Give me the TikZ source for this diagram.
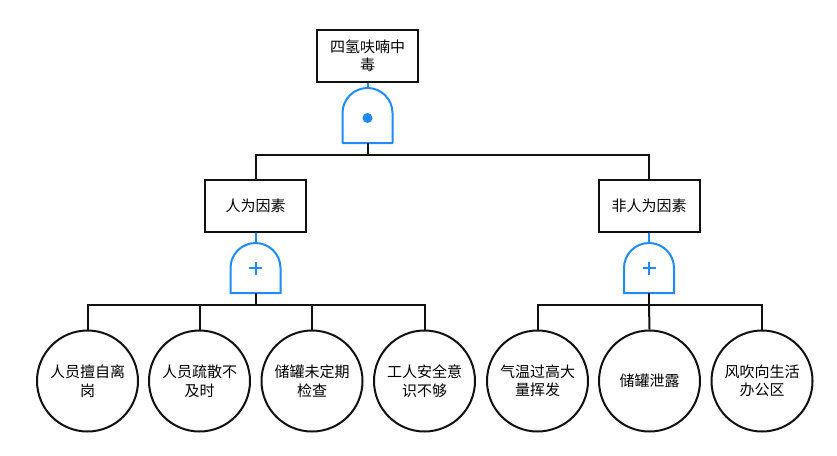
\documentclass[tikz,border=0pt]{standalone}
\usepackage{fontspec}
\newfontfamily\cjk{Noto Sans CJK SC}
\definecolor{gateblue}{HTML}{1E8CFF}
\definecolor{ink}{HTML}{111111}
\tikzset{
  box/.style={draw=ink, line width=2pt, fill=white, minimum width=101pt, minimum height=52pt, align=center, inner sep=2pt, font=\cjk\fontsize{15}{18.5}\selectfont},
  evt/.style={draw=ink, line width=2pt, fill=white, circle, minimum size=101pt, align=center, inner sep=0pt, font=\cjk\fontsize{15}{18.5}\selectfont},
  conn/.style={draw=ink, line width=2pt},
  bconn/.style={draw=gateblue, line width=2pt},
  gateline/.style={draw=gateblue, line width=2pt, line join=round, fill=white},
  andgate/.pic={
    \draw[gateline] (-25,-30) -- (-25,0) arc[start angle=180,end angle=0,radius=25pt] -- (25,-30) -- cycle;
    \fill[gateblue] (0,-5) circle (5pt);
    \coordinate (-in) at (0,25);
    \coordinate (-out) at (0,-30);
  },
  orgate/.pic={
    \draw[gateblue, line width=2pt] (-25,-25) -- (-25,0) arc[start angle=180,end angle=0,radius=25pt] -- (25,-25) -- cycle;
    \draw[gateblue, line width=2pt] (-6.5,0) -- (6.5,0) (0,-6.5) -- (0,6.5);
    \coordinate (-in) at (0,25);
    \coordinate (-out) at (0,-25);
  }
}
\begin{document}
\begin{tikzpicture}[x=1pt,y=1pt]
\useasboundingbox[fill=white] (0,0) rectangle (837,-455);

\node[box] (top) at (367.5,-56) {四氢呋喃中\\毒};
\pic (g1) at (367.5,-113) {andgate};
\coordinate (j1) at (367.5,-155);

\node[box] (hum) at (255.5,-206) {人为因素};
\node[box] (non) at (649,-206) {非人为因素};
\pic (g2) at (255.5,-268) {orgate};
\pic (g3) at (649,-268) {orgate};
\coordinate (j2) at (255.5,-305);
\coordinate (j3) at (649,-305);

\node[evt] (c1) at (87.5,-381) {人员擅自离\\岗};
\node[evt] (c2) at (199.5,-381) {人员疏散不\\及时};
\node[evt] (c3) at (312,-381) {储罐未定期\\检查};
\node[evt] (c4) at (424.5,-381) {工人安全意\\识不够};
\node[evt] (c5) at (537.5,-381) {气温过高大\\量挥发};
\node[evt] (c6) at (649.5,-381) {储罐泄露};
\node[evt] (c7) at (762,-381) {风吹向生活\\办公区};

\draw[bconn] (top.south) -- (g1-in);
\draw[conn] (g1-out) -- (j1);
\draw[conn] (hum.north) |- (j1) -| (non.north);

\draw[bconn] (hum.south) -- (g2-in);
\draw[bconn] (non.south) -- (g3-in);
\draw[conn] (g2-out) -- (j2);
\draw[conn] (g3-out) -- (j3);

\draw[conn] (c1.north) |- (j2) -| (c4.north);
\draw[conn] (c2.north) -- (c2.north |- j2);
\draw[conn] (c3.north) -- (c3.north |- j2);

\draw[conn] (c5.north) |- (j3) -| (c7.north);
\draw[conn] (c6.north) -- (j3);
\end{tikzpicture}
\end{document}
